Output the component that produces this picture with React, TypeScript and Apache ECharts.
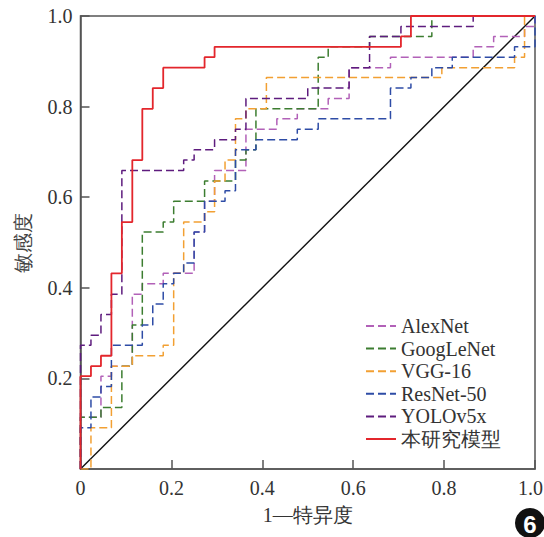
import React, { useEffect, useRef } from "react";
import * as echarts from "echarts";

// ROC staircase: at each fpr value the curve rises to the matching tpr value
const xTicks = [0, 0.2, 0.4, 0.6, 0.8, 1.0];
const yTicks = [0.2, 0.4, 0.6, 0.8, 1.0];

const alexFpr = [0, 0.045, 0.068, 0.114, 0.136, 0.182, 0.25, 0.273, 0.295, 0.364, 0.432, 0.477, 0.545, 0.591, 0.682, 0.864, 0.909, 0.977, 1];
const alexTpr = [0.114, 0.205, 0.227, 0.386, 0.409, 0.432, 0.523, 0.591, 0.659, 0.75, 0.773, 0.795, 0.818, 0.886, 0.909, 0.932, 0.955, 0.977, 1];

const googFpr = [0, 0.045, 0.091, 0.114, 0.136, 0.182, 0.205, 0.273, 0.341, 0.364, 0.386, 0.523, 0.545, 0.636, 0.773];
const googTpr = [0.114, 0.136, 0.227, 0.318, 0.523, 0.545, 0.591, 0.636, 0.682, 0.705, 0.795, 0.909, 0.932, 0.955, 1];

const vggFpr = [0.023, 0.068, 0.114, 0.182, 0.205, 0.227, 0.273, 0.295, 0.318, 0.341, 0.364, 0.409, 0.795, 0.955, 0.977];
const vggTpr = [0.091, 0.227, 0.25, 0.273, 0.432, 0.545, 0.568, 0.636, 0.682, 0.773, 0.795, 0.864, 0.886, 0.909, 1];

const resFpr = [0, 0.023, 0.045, 0.068, 0.136, 0.159, 0.182, 0.205, 0.227, 0.25, 0.273, 0.318, 0.341, 0.386, 0.477, 0.523, 0.682, 0.727, 0.773, 0.818, 0.955, 1];
const resTpr = [0.091, 0.159, 0.182, 0.273, 0.318, 0.364, 0.409, 0.432, 0.455, 0.523, 0.591, 0.614, 0.705, 0.727, 0.75, 0.773, 0.841, 0.864, 0.886, 0.909, 0.932, 1];

const yoloFpr = [0, 0.023, 0.045, 0.068, 0.091, 0.227, 0.25, 0.295, 0.341, 0.364, 0.5, 0.591, 0.636, 0.705, 0.864];
const yoloTpr = [0.273, 0.295, 0.341, 0.386, 0.659, 0.682, 0.705, 0.727, 0.75, 0.818, 0.841, 0.886, 0.955, 0.977, 1];

const oursFpr = [0, 0.023, 0.045, 0.068, 0.091, 0.114, 0.136, 0.159, 0.182, 0.273, 0.295, 0.705, 0.727];
const oursTpr = [0.205, 0.227, 0.25, 0.432, 0.545, 0.682, 0.795, 0.841, 0.886, 0.909, 0.932, 0.955, 1];

const names = ["AlexNet", "GoogLeNet", "VGG-16", "ResNet-50", "YOLOv5x", "本研究模型"];
const colors = ["#B261B8", "#3C7D30", "#F2A033", "#2E4CA6", "#5E1C7E", "#E3262C"];
const xName = "1—特异度";
const yName = "敏感度";

function staircase(fpr: number[], tpr: number[]): number[][] {
  const pts: number[][] = [[0, 0]];
  let y = 0;
  for (let i = 0; i < fpr.length; i++) {
    pts.push([fpr[i], y]);
    pts.push([fpr[i], tpr[i]]);
    y = tpr[i];
  }
  pts.push([1, y]);
  return pts;
}

export default function App() {
  const ref = useRef<HTMLDivElement>(null);
  useEffect(() => {
    if (!ref.current) return;
    const chart = echarts.init(ref.current, null, { renderer: "svg" });
    const curves = [
      staircase(alexFpr, alexTpr),
      staircase(googFpr, googTpr),
      staircase(vggFpr, vggTpr),
      staircase(resFpr, resTpr),
      staircase(yoloFpr, yoloTpr),
      staircase(oursFpr, oursTpr),
    ];
    const series: any[] = [
      {
        type: "line",
        data: [[0, 0], [1, 1]],
        symbol: "none",
        silent: true,
        lineStyle: { color: "#111", width: 1.4 },
        z: 1,
      },
    ];
    curves.forEach((c, i) => {
      const solid = i === 5;
      series.push({
        name: names[i],
        type: "line",
        data: c,
        symbol: "none",
        lineStyle: {
          color: colors[i],
          width: solid ? 1.8 : 1.5,
          type: solid ? "solid" : [8, 4],
        },
        itemStyle: { color: colors[i] },
        z: 2 + i,
      });
    });
    const axisCommon = {
      type: "value",
      min: 0,
      max: 1,
      interval: 0.2,
      axisLine: { lineStyle: { color: "#555", width: 1.5 } },
      axisTick: { inside: true, length: 9, lineStyle: { color: "#555", width: 1.5 } },
      axisLabel: { show: false },
      splitLine: { show: false },
    };
    chart.setOption({
      animation: false,
      grid: {
        left: 80.5,
        right: 9,
        top: 16,
        bottom: 68,
        outerBoundsMode: "none",
        containLabel: false,
        show: true,
        borderColor: "#555",
        borderWidth: 1.5,
        backgroundColor: "transparent",
      },
      legend: {
        orient: "vertical",
        left: 365,
        top: 316,
        padding: 0,
        itemWidth: 30,
        itemHeight: 10,
        itemGap: 2.6,
        itemStyle: { opacity: 0 },
        data: names,
        textStyle: { fontFamily: "Liberation Serif", fontSize: 20, color: "#333", lineHeight: 20 },
      },
      xAxis: axisCommon,
      yAxis: axisCommon,
      series,
    });

    const txt = (text: string, align: string, vAlign: string) => ({
      text,
      fontFamily: "Liberation Serif",
      fontSize: 20,
      fill: "#333",
      align,
      verticalAlign: vAlign,
    });
    const g: any[] = [];
    const W = chart.getWidth();
    xTicks.forEach((v) => {
      const [px, py] = chart.convertToPixel({ gridIndex: 0 }, [v, 0]) as number[];
      const overflow = px + 13 > W - 1;
      g.push({
        type: "text",
        x: overflow ? W - 1 : px,
        y: py + 9,
        style: txt(v === 0 ? "0" : v.toFixed(1), overflow ? "right" : "center", "top"),
      });
    });
    yTicks.forEach((v) => {
      const [px, py] = chart.convertToPixel({ gridIndex: 0 }, [0, v]) as number[];
      g.push({ type: "text", x: px - 8, y: py, style: txt(v.toFixed(1), "right", "middle") });
    });
    const [cx, by] = chart.convertToPixel({ gridIndex: 0 }, [0.5, 0]) as number[];
    g.push({ type: "text", x: cx, y: by + 46, style: txt(xName, "center", "middle") });
    const [lx, cy] = chart.convertToPixel({ gridIndex: 0 }, [0, 0.5]) as number[];
    g.push({
      type: "text",
      x: lx - 58,
      y: cy,
      rotation: Math.PI / 2,
      style: { ...txt(yName, "center", "middle"), fill: "#444" },
    });
    g.push({ type: "circle", shape: { cx: 530, cy: 523, r: 15 }, style: { fill: "#111" } });
    g.push({
      type: "text",
      x: 530,
      y: 524,
      style: {
        text: "6",
        fill: "#fff",
        fontFamily: "Liberation Sans",
        fontWeight: "bold",
        fontSize: 24,
        align: "center",
        verticalAlign: "middle",
      },
    });
    chart.setOption({ graphic: g });
    return () => chart.dispose();
  }, []);
  return (
    <div
      ref={ref}
      style={{ position: "fixed", left: 0, top: 0, width: 544, height: 537, background: "#fff" }}
    />
  );
}
